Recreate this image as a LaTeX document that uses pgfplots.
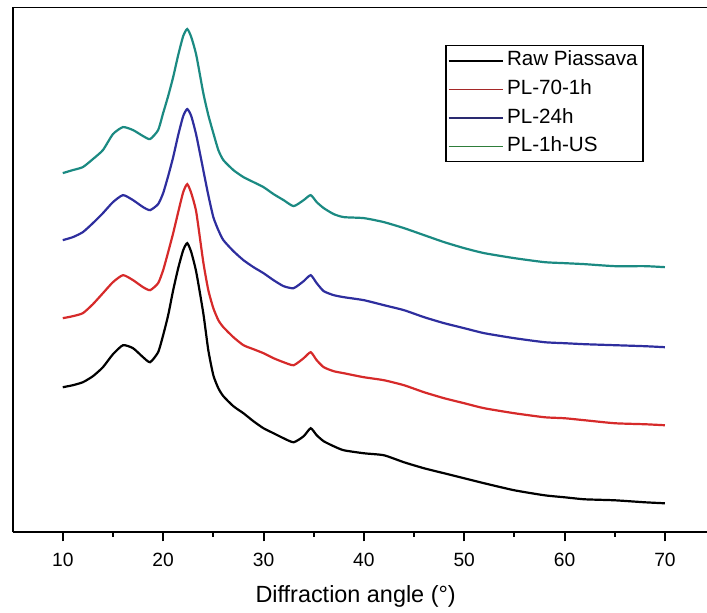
\documentclass[border=0pt]{standalone}
\usepackage{fontspec}
\setmainfont{Liberation Sans}
\usepackage{pgfplots}
\usepackage{pgfplotstable}
\pgfplotsset{compat=1.18}

\definecolor{xrdred}{HTML}{D62A2A}
\definecolor{xrdblue}{HTML}{2E2E9E}
\definecolor{xrdteal}{HTML}{1B8A82}
\definecolor{legred}{HTML}{A52828}
\definecolor{legblue}{HTML}{2A2A70}
\definecolor{leggreen}{HTML}{2E7D3A}

% 2theta vs intensity (a.u., curves already offset)
\pgfplotstableread{
x     raw  pl70  pl24  plus
10    145  214   292   359
11    147  216   295   362
12    150  219   300   365
13    156  228   309   373
14    165  239   319   382
15    178  250   330   398
16    187  257   337   405
17    184  252   332   402
18    175  245   325   396
18.7  170  242   322   393
19.5  180  249   328   402
20    197  262   339   419
20.5  217  280   356   436
21    242  299   375   455
21.5  264  320   397   477
22    282  340   416   496
22.4  289  348   423   503
22.8  280  339   416   495
23.3  260  320   397   477
24    219  270   362   439
24.5  182  242   337   417
25    157  224   315   399
25.5  144  212   302   382
26    136  205   292   372
27    126  195   281   362
28    119  187   272   355
29    111  183   265   350
30    104  179   259   345
31     99  174   252   338
32     94  170   246   332
33     90  167   244   326
34     96  174   251   332
34.7  104  180   257   337
35.3   97  172   249   330
36     91  165   241   324
37     86  161   237   318
38     82  159   235   315
40     79  155   232   314
42     77  152   227   310
44     70  147   222   304
46     64  140   215   297
48     59  134   209   290
50     54  129   204   284
52     49  124   199   279
55     42  119   194   274
58     37  115   190   270
60     35  114   189   269
62     33  112   188   268
65     32  109   187   266
68     30  108   186   266
70     29  107   185   265
}\xrd

\begin{document}
\begin{tikzpicture}
\begin{axis}[
    scale only axis, width=347pt, height=262.5pt,
    xmin=5, xmax=74.19, ymin=0, ymax=525,
    axis x line*=bottom, axis y line*=left,
    axis line style={line width=1pt, -},
    xtick={10,20,...,70}, minor x tick num=1,
    ytick=\empty,
    tick align=outside,
    major tick length=4.5pt, minor tick length=2.2pt,
    tick style={line width=1pt, black},
    /pgf/number format/assume math mode=true,
    xticklabel style={font=\fontsize{9.6}{10}\selectfont, yshift=-2.5pt},
    xlabel={Diffraction angle (°)},
    x label style={font=\fontsize{11.7}{12}\selectfont,
        at={(axis description cs:0.494,0)}, anchor=base, yshift=-35.3pt},
    legend cell align=left,
    legend image code/.code={\draw[#1, line width=0.8pt] (0pt,0pt) -- (27pt,0pt);},
    legend style={at={(rel axis cs:0.623,0.9276)}, anchor=north west,
        draw=black, line width=0.7pt, inner xsep=1pt, inner ysep=2.6pt,
        font=\fontsize{10.3}{11}\selectfont,
        nodes={inner xsep=1.75pt, inner ysep=0pt, text height=7.5pt, text depth=2.3pt},
        row sep=4.5pt},
    every axis plot/.append style={line width=1.1pt, smooth, tension=0.35},
]
\addlegendimage{black}
\addlegendentry{Raw Piassava}
\addlegendimage{legred}
\addlegendentry{PL-70-1h}
\addlegendimage{legblue}
\addlegendentry{PL-24h}
\addlegendimage{leggreen}
\addlegendentry{PL-1h-US}

\addplot[black, forget plot] table[x=x, y=raw] {\xrd};
\addplot[xrdred, forget plot] table[x=x, y=pl70] {\xrd};
\addplot[xrdblue, forget plot] table[x=x, y=pl24] {\xrd};
\addplot[xrdteal, forget plot] table[x=x, y=plus] {\xrd};

\draw[line width=1pt] (rel axis cs:0,1) -- (rel axis cs:1,1);
\end{axis}
\pgfresetboundingbox
\path (-6.3pt,-40pt) rectangle (347pt,266pt);
\end{tikzpicture}
\end{document}
